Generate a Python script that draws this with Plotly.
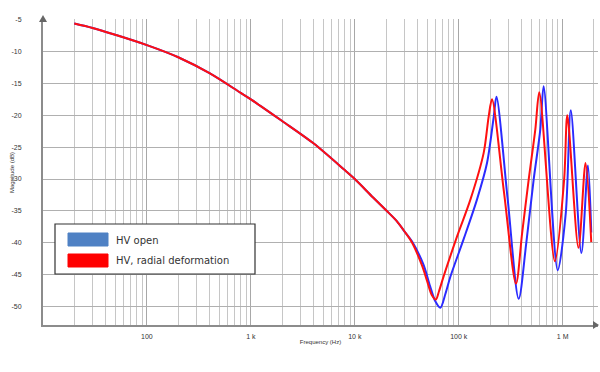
import plotly.graph_objects as go

# ---------------- data ----------------
common_freq = [20, 30, 50, 100, 200, 400, 800, 1000, 2000, 4000, 8000, 10000,
               15000, 20000, 25000, 30000]
common_mag = [-5.6, -6.3, -7.4, -9.0, -10.9, -13.4, -16.5, -17.5, -20.9, -24.4, -28.6, -30.0,
              -32.9, -34.9, -36.5, -38.2]

open_freq = [35600, 45700, 53000, 59200, 66500, 74500, 83200, 111700, 150000, 187100,
             217300, 230700, 295100, 377600, 446700, 526000, 609500, 656100, 895400,
             1072000, 1197000, 1514000, 1750000, 1884000]
open_mag = [-39.8, -43.4, -46.8, -49.1, -50.2, -48.0, -45.3, -39.4, -33.2, -27.5,
            -20.2, -17.1, -33.0, -48.8, -40.0, -30.1, -22.2, -15.45, -44.3,
            -35.3, -19.2, -41.6, -27.9, -38.4]

radial_freq = [35600, 44400, 49400, 55000, 60300, 64600, 71800, 96400, 129700, 173800,
               194100, 208900, 272300, 355600, 407400, 471000, 545800, 595700, 841400,
               1033000, 1109000, 1419000, 1660000, 1884000]
radial_mag = [-40.0, -43.6, -45.9, -48.2, -48.9, -47.6, -45.2, -39.0, -33.2, -25.9,
              -20.2, -17.5, -32.0, -46.4, -38.5, -30.1, -22.2, -16.4, -42.9,
              -30.1, -20.0, -40.8, -27.5, -39.9]

series_names = ["HV open", "HV, radial deformation"]
y_ticks = [-5, -10, -15, -20, -25, -30, -35, -40, -45, -50]
x_ticks = [100, 1000, 10000, 100000, 1000000]
x_tick_text = ["100", "1 k", "10 k", "100 k", "1 M"]

# ---------------- figure ----------------
W, H = 600, 372
L, R, T, B = 43, 2, 19, 47   # plot area in pixels: x 43..598, y 19..325


def px(x):
    return (x - L) / (W - L - R)


def py(y):
    return 1 - (y - T) / (H - T - B)


fig = go.Figure()
fig.add_trace(go.Scatter(
    x=common_freq + open_freq, y=common_mag + open_mag, name=series_names[0],
    mode="lines", line=dict(color="#2b2bff", width=2, shape="spline", smoothing=0.85),
    showlegend=False))
fig.add_trace(go.Scatter(
    x=common_freq + radial_freq, y=common_mag + radial_mag, name=series_names[1],
    mode="lines", line=dict(color="#ff1010", width=2, shape="spline", smoothing=0.85),
    showlegend=False))

minor_vals = [m * 10 ** e for e in range(1, 7) for m in range(2, 10)]

fig.update_xaxes(
    type="log", range=[1, 6.34],
    tickvals=x_ticks, ticktext=x_tick_text,
    tickfont=dict(size=7, color="#333333", family="Liberation Sans"),
    ticks="outside", ticklen=4, tickcolor="rgba(0,0,0,0)",
    showgrid=True, gridcolor="#a8a8a8", gridwidth=1,
    minor=dict(tickvals=minor_vals, showgrid=True, gridcolor="#c6c6c6", gridwidth=1, ticks=""),
    showline=True, linecolor="#8c8c8c", linewidth=2,
    zeroline=False,
    title=dict(text="Frequency (Hz)", font=dict(size=6, color="#333333", family="Liberation Sans"),
               standoff=0),
)
fig.update_yaxes(
    range=[-52.9, -4.9],
    tickvals=y_ticks, ticktext=[str(v) for v in y_ticks],
    tickfont=dict(size=7, color="#333333", family="Liberation Sans"),
    ticks="outside", ticklen=18, tickcolor="rgba(0,0,0,0)",
    showgrid=True, gridcolor="#b0b0b0", gridwidth=1,
    showline=True, linecolor="#8c8c8c", linewidth=2,
    zeroline=False,
)

shapes = []
# axis arrow heads
shapes.append(dict(type="path", xref="paper", yref="paper",
                   path=f"M {px(39)} {py(22)} L {px(47)} {py(22)} L {px(43)} {py(15)} Z",
                   fillcolor="#666666", line=dict(width=0)))
shapes.append(dict(type="path", xref="paper", yref="paper",
                   path=f"M {px(593)} {py(321)} L {px(593)} {py(329)} L {px(599)} {py(325)} Z",
                   fillcolor="#666666", line=dict(width=0)))
# legend box
shapes.append(dict(type="rect", xref="paper", yref="paper",
                   x0=px(55), x1=px(255), y0=py(224), y1=py(274),
                   fillcolor="white", line=dict(color="#333333", width=1.2)))
shapes.append(dict(type="rect", xref="paper", yref="paper",
                   x0=px(68), x1=px(108), y0=py(233), y1=py(246),
                   fillcolor="#4f81c4", line=dict(color="#4f81c4", width=1)))
shapes.append(dict(type="rect", xref="paper", yref="paper",
                   x0=px(68), x1=px(108), y0=py(254), y1=py(267),
                   fillcolor="#ff0000", line=dict(color="#ff0000", width=1)))

annotations = [
    dict(xref="paper", yref="paper", x=px(114), y=py(240), text=series_names[0],
         showarrow=False, xanchor="left", yanchor="middle",
         font=dict(size=10, color="#333333", family="DejaVu Sans")),
    dict(xref="paper", yref="paper", x=px(114), y=py(260), text=series_names[1],
         showarrow=False, xanchor="left", yanchor="middle",
         font=dict(size=10, color="#333333", family="DejaVu Sans")),
    dict(xref="paper", yref="paper", x=px(12), y=py(173), text="Magnitude (dB)",
         showarrow=False, xanchor="center", yanchor="middle", textangle=-90,
         font=dict(size=6, color="#333333", family="Liberation Sans")),
]

fig.update_layout(
    width=W, height=H,
    margin=dict(l=L, r=R, t=T, b=B, autoexpand=False),
    paper_bgcolor="white", plot_bgcolor="white",
    shapes=shapes, annotations=annotations,
    showlegend=False,
)

fig.write_html("out.html", config={"displayModeBar": False},
               post_script="document.body.style.margin='0';")
